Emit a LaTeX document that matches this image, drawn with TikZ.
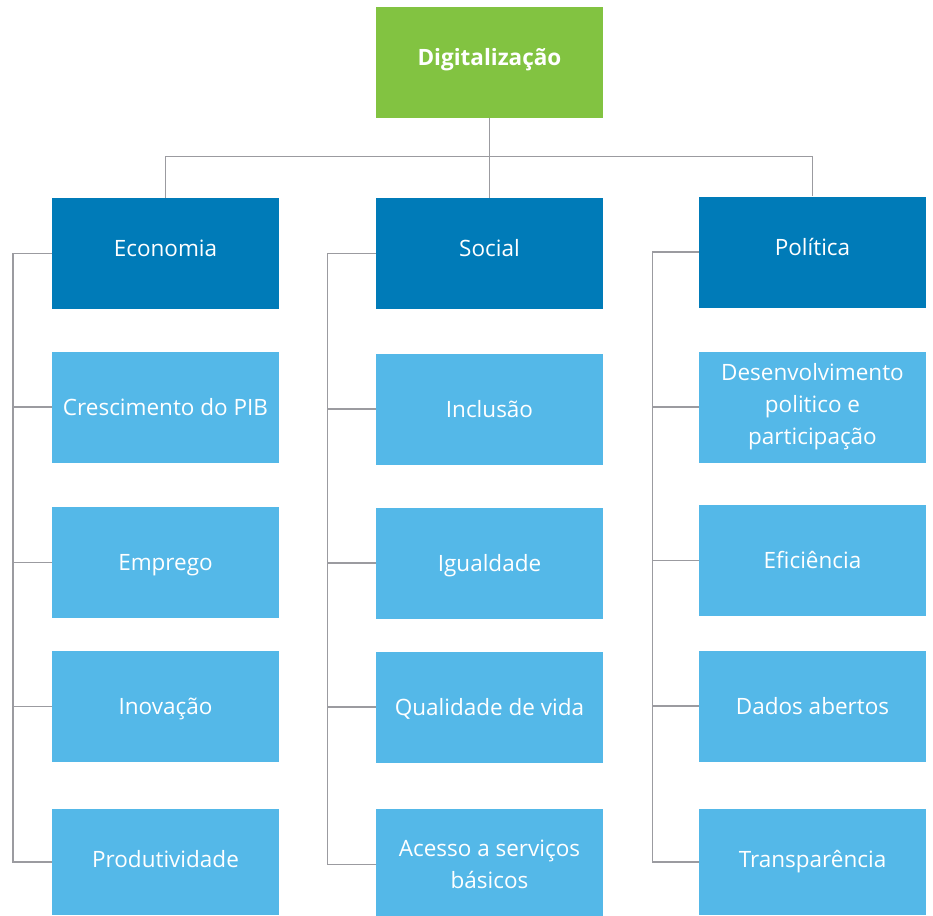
\documentclass[tikz,border=0pt]{standalone}
\usepackage{fontspec}
\setmainfont{Open Sans}
\usepackage{tikz}

\tikzset{
  rootbox/.style={fill={rgb, 255:red, 130; green, 195; blue, 65 }, text=white, font=\fontsize{22.5}{32}\selectfont\bfseries, minimum width=227, minimum height=111, inner sep=0, text height=16, text depth=10},
  headbox/.style={fill={rgb, 255:red, 0; green, 123; blue, 184 }, text=white, font=\fontsize{22.5}{32}\selectfont, minimum width=227, minimum height=111, inner sep=0, text height=16, text depth=10},
  itembox/.style={fill={rgb, 255:red, 84; green, 184; blue, 232 }, text=white, font=\fontsize{22.5}{32}\selectfont, minimum width=227, minimum height=111, inner sep=0, align=center},
  oneline/.style={text height=16, text depth=0},
  link/.style={draw={rgb, 255:red, 155; green, 155; blue, 160 }, line width=1.5}
}

\begin{document}
\begin{tikzpicture}[x=1pt,y=1pt,yscale=-1,xscale=1]
  \useasboundingbox (0,0) rectangle (933,915);
  % top
  \node[rootbox] (dig) at (489.5,62.5) {Digitalização};
  % three areas
  \node[headbox] (eco) at (165.5,253.5) {Economia};
  \node[headbox] (soc) at (489.5,253.5) {Social};
  \node[headbox] (pol) at (812.5,252) {Política};
  % economia
  \node[itembox,oneline] (cre) at (165.5,407) {Crescimento do PIB};
  \node[itembox,oneline] (emp) at (165.5,562.5) {Emprego};
  \node[itembox,oneline] (ino) at (165.5,706.5) {Inovação};
  \node[itembox,oneline,minimum height=106,text depth=6] (pro) at (165.5,862) {Produtividade};
  % social
  \node[itembox,oneline] (inc) at (489.5,409) {Inclusão};
  \node[itembox,oneline] (igu) at (489.5,563) {Igualdade};
  \node[itembox,oneline] (qua) at (489.5,707) {Qualidade de vida};
  \node[itembox] (ace) at (489.5,864.5) {Acesso a serviços\\básicos};
  % politica
  \node[itembox] (des) at (812.5,407) {Desenvolvimento\\politico e\\participação};
  \node[itembox,oneline] (efi) at (812.5,560.5) {Eficiência};
  \node[itembox,oneline] (dad) at (812.5,706) {Dados abertos};
  \node[itembox,oneline,minimum height=106,text depth=6] (tra) at (812.5,862) {Transparência};

  % tree links
  \draw[link] (dig.south) -- ++(0,38.5) coordinate (bar);
  \draw[link] (eco.north) |- (bar) -| (pol.north);
  \draw[link] (bar) -- (soc.north);

  \draw[link] (eco.west) -- ++(-39,0) coordinate (ecoS) |- (pro.west);
  \draw[link] (ecoS |- cre.west) -- (cre.west);
  \draw[link] (ecoS |- emp.west) -- (emp.west);
  \draw[link] (ecoS |- ino.west) -- (ino.west);

  \draw[link] (soc.west) -- ++(-48.5,0) coordinate (socS) |- (ace.west);
  \draw[link] (socS |- inc.west) -- (inc.west);
  \draw[link] (socS |- igu.west) -- (igu.west);
  \draw[link] (socS |- qua.west) -- (qua.west);

  \draw[link] (pol.west) -- ++(-46.5,0) coordinate (polS) |- (tra.west);
  \draw[link] (polS |- des.west) -- (des.west);
  \draw[link] (polS |- efi.west) -- (efi.west);
  \draw[link] (polS |- dad.west) -- (dad.west);
\end{tikzpicture}
\end{document}
